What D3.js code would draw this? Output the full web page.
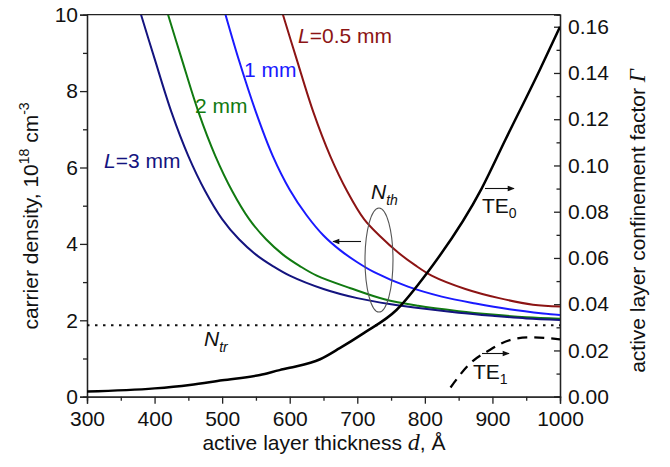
<!DOCTYPE html>
<html><head><meta charset="utf-8">
<script src="https://cdn.jsdelivr.net/npm/d3@7"></script>
<style>body{margin:0;background:#fff}svg{display:block}</style>
</head><body>
<svg id="c" width="670" height="467"></svg>
<script>
// ---- data ----
const xTicks = [300,400,500,600,700,800,900,1000];
const yLTicks = [0,2,4,6,8,10];
const yRTicks = [0,0.02,0.04,0.06,0.08,0.10,0.12,0.14,0.16];

// threshold carrier density N_th (10^18 cm^-3) vs thickness d (Å)
const d_L05 = [590,610,635,660,685,710,735,760,785,810,860,910,960,1000];
const N_L05 = [10.0,8.85,7.45,6.30,5.38,4.65,4.18,3.78,3.45,3.17,2.82,2.58,2.41,2.36];
const d_L1 = [505,525,550,575,600,625,650,675,700,725,775,825,875,925,975,1000];
const N_L1 = [10.0,8.80,7.45,6.30,5.42,4.75,4.22,3.83,3.52,3.26,2.88,2.62,2.44,2.29,2.18,2.14];
const d_L2 = [420,440,465,490,515,540,565,590,615,640,690,740,790,850,900,950,1000];
const N_L2 = [10.0,8.85,7.45,6.30,5.38,4.65,4.12,3.72,3.42,3.17,2.84,2.55,2.38,2.24,2.15,2.08,2.04];
const d_L3 = [380,400,425,450,475,500,525,550,575,600,650,700,750,800,850,900,950,1000];
const N_L3 = [10.0,8.85,7.45,6.30,5.38,4.65,4.12,3.72,3.42,3.17,2.82,2.58,2.42,2.30,2.20,2.12,2.05,2.01];
const Ntr = 1.87;

// confinement factor Γ
const d_TE0 = [300,400,452,500,556,585,600,645,674,709,758,803,884,919,970,1000];
const G_TE0 = [0.0022,0.0036,0.0051,0.0071,0.0094,0.0115,0.0125,0.0162,0.021,0.0274,0.0375,0.0534,0.090,0.111,0.1413,0.160];
const d_TE1 = [838,867,896,926,956,1000];
const G_TE1 = [0.004,0.0144,0.0202,0.0245,0.0257,0.0248];

// ---- layout ----
const svg = d3.select("#c");
const L = 87, R = 560, T = 14.7, B = 396.7;
const x = d3.scaleLinear().domain([300,1000]).range([L,R]);
const yL = d3.scaleLinear().domain([0,10]).range([B,T]);
const yR = d3.scaleLinear().domain([0,0.1652]).range([B,T]);
const FONT = "'Liberation Sans', Arial, sans-serif";
const axisCol = "#222";

const defs = svg.append("defs");
defs.append("clipPath").attr("id","clip")
  .append("rect").attr("x",L).attr("y",T).attr("width",R-L).attr("height",B-T);

// axes
const gx = svg.append("g").attr("transform",`translate(0,${B})`)
  .call(d3.axisBottom(x).tickValues(xTicks).tickSize(7).tickPadding(7).tickFormat(d3.format("d")));
const gxm = svg.append("g").attr("transform",`translate(0,${B})`)
  .call(d3.axisBottom(x).tickValues(d3.range(350,1000,100)).tickSize(4).tickFormat(""));
const gy = svg.append("g").attr("transform",`translate(${L},0)`)
  .call(d3.axisLeft(yL).tickValues(yLTicks).tickSize(7).tickPadding(2).tickFormat(d3.format("d")));
const gym = svg.append("g").attr("transform",`translate(${L},0)`)
  .call(d3.axisLeft(yL).tickValues([1,3,5,7,9]).tickSize(4).tickFormat(""));
const gr = svg.append("g").attr("transform",`translate(${R},0)`)
  .call(d3.axisRight(yR).tickValues(yRTicks).tickSize(-6).tickPadding(8).tickFormat(d3.format(".2f")));
const grm = svg.append("g").attr("transform",`translate(${R},0)`)
  .call(d3.axisRight(yR).tickValues([0.01,0.03,0.05,0.07,0.09,0.11,0.13,0.15]).tickSize(-3.5).tickFormat(""));
[gx,gxm,gy,gym,gr,grm].forEach(g=>{
  g.selectAll("path").attr("stroke",axisCol).attr("stroke-width",1.3);
  g.selectAll("line").attr("stroke",axisCol).attr("stroke-width",1.3);
  g.selectAll("text").attr("font-family",FONT).attr("font-size",21).attr("fill","#111");
});
gr.selectAll("text").attr("x",8);
svg.append("line").attr("x1",L).attr("x2",R).attr("y1",T).attr("y2",T).attr("stroke",axisCol).attr("stroke-width",1.3);

// curves
const plot = svg.append("g").attr("clip-path","url(#clip)");
const cr = d3.curveCatmullRom.alpha(0.5);
const lineL = (ds,ns)=>d3.line().curve(cr).x((d,i)=>x(ds[i])).y((d,i)=>yL(ns[i]))(ds);
const lineR = (ds,gs)=>d3.line().curve(d3.curveMonotoneX).x((d,i)=>x(ds[i])).y((d,i)=>yR(gs[i]))(ds);

const cRed="#8c1414", cBlue="#1a1aff", cGreen="#117a11", cNavy="#14147f";
plot.append("path").attr("d",lineL(d_L05,N_L05)).attr("fill","none").attr("stroke",cRed).attr("stroke-width",2);
plot.append("path").attr("d",lineL(d_L1,N_L1)).attr("fill","none").attr("stroke",cBlue).attr("stroke-width",2);
plot.append("path").attr("d",lineL(d_L2,N_L2)).attr("fill","none").attr("stroke",cGreen).attr("stroke-width",2);
plot.append("path").attr("d",lineL(d_L3,N_L3)).attr("fill","none").attr("stroke",cNavy).attr("stroke-width",2);
plot.append("line").attr("x1",x(300)).attr("x2",x(1000)).attr("y1",yL(Ntr)).attr("y2",yL(Ntr))
  .attr("stroke","#111").attr("stroke-width",2.2).attr("stroke-dasharray","2.5,5.5");
plot.append("path").attr("d",lineR(d_TE0,G_TE0)).attr("fill","none").attr("stroke","#000").attr("stroke-width",2.5);
plot.append("path").attr("d",lineR(d_TE1,G_TE1)).attr("fill","none").attr("stroke","#000").attr("stroke-width",2.3).attr("stroke-dasharray","10,7");

// annotations
function label(xp,yp,parts,color,size){
  const t = svg.append("text").attr("x",xp).attr("y",yp).attr("font-family",FONT)
    .attr("font-size",size||21).attr("fill",color||"#111");
  parts.forEach(p=>{
    const s = t.append("tspan").text(p.t);
    if(p.i) s.attr("font-style","italic");
    if(p.sub){ s.attr("font-size",p.fs||14).attr("dy",p.dy||6); }
  });
  return t;
}
label(298,43,[{t:"L",i:true},{t:"=0.5 mm"}],cRed);
label(244,77,[{t:"1 mm"}],cBlue);
label(195,113,[{t:"2 mm"}],cGreen);
label(104,168,[{t:"L",i:true},{t:"=3 mm"}],cNavy);
label(371,199,[{t:"N",i:true},{t:"th",i:true,sub:true,fs:14,dy:6}],"#111");
label(204,346,[{t:"N",i:true},{t:"tr",i:true,sub:true,fs:14,dy:6}],"#111");
label(482,213,[{t:"TE"},{t:"0",sub:true,fs:14,dy:5}],"#111");
label(473,379,[{t:"TE"},{t:"1",sub:true,fs:14,dy:5}],"#111");

// ellipse
svg.append("ellipse").attr("cx",379).attr("cy",260).attr("rx",14).attr("ry",52)
  .attr("fill","none").attr("stroke","#555").attr("stroke-width",1.1);

// arrows
defs.append("marker").attr("id","ah").attr("viewBox","0 0 10 10").attr("refX",9).attr("refY",5)
  .attr("markerWidth",9).attr("markerHeight",7).attr("markerUnits","userSpaceOnUse").attr("orient","auto")
  .append("path").attr("d","M0,1 L10,5 L0,9 Z").attr("fill","#111");
function arrow(x1,y1,x2,y2){
  svg.append("line").attr("x1",x1).attr("y1",y1).attr("x2",x2).attr("y2",y2)
    .attr("stroke","#111").attr("stroke-width",1.1).attr("marker-end","url(#ah)");
}
arrow(361,241.5,333,241.5);
arrow(485,188.5,514,188.5);
arrow(482,353.5,509,353.5);

// axis titles
svg.append("text").attr("transform","translate(38,216) rotate(-90)").attr("text-anchor","middle")
  .attr("font-family",FONT).attr("font-size",21).attr("fill","#111")
  .call(t=>{
    t.append("tspan").text("carrier density, 10");
    t.append("tspan").text("18").attr("font-size",14).attr("dy",-9);
    t.append("tspan").text(" cm").attr("dy",9);
    t.append("tspan").text("-3").attr("font-size",14).attr("dy",-9);
  });
svg.append("text").attr("transform","translate(645,221) rotate(-90)").attr("text-anchor","middle")
  .attr("font-family",FONT).attr("font-size",21).attr("fill","#111")
  .call(t=>{
    t.append("tspan").text("active layer confinement factor ");
    t.append("tspan").text("Γ").attr("font-family","'Liberation Serif', serif").attr("font-style","italic").attr("font-size",23);
  });
svg.append("text").attr("x",324).attr("y",450).attr("text-anchor","middle")
  .attr("font-family",FONT).attr("font-size",21).attr("fill","#111")
  .call(t=>{
    t.append("tspan").text("active layer thickness ");
    t.append("tspan").text("d").attr("font-family","'Liberation Serif', serif").attr("font-style","italic").attr("font-size",24);
    t.append("tspan").text(", Å");
  });
</script>
</body></html>
